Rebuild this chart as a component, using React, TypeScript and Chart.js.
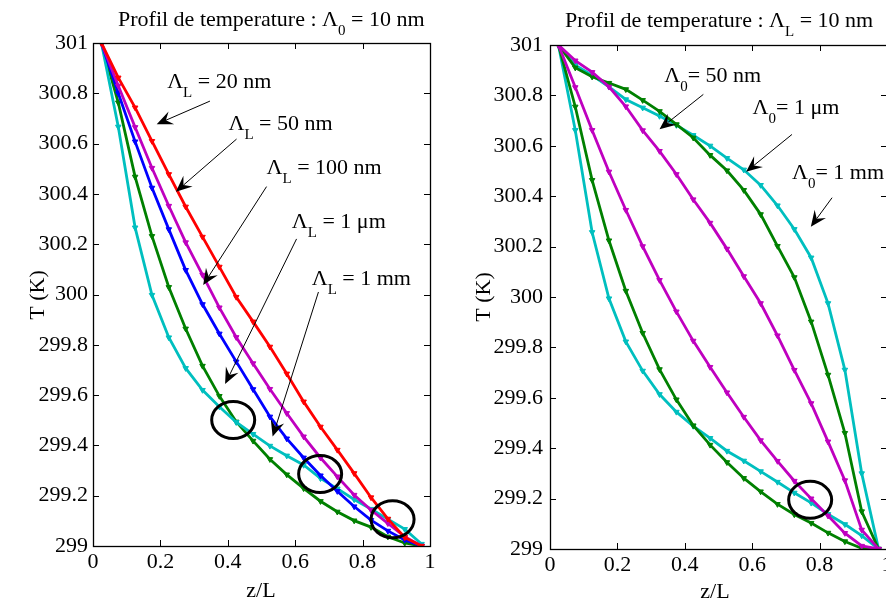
import React, { useEffect, useRef } from "react";
import { Chart, registerables } from "chart.js";

Chart.register(...registerables);

const FAMILY = "'Liberation Serif', 'Times New Roman', serif";

// z/L positions of the computed points (cell centres)
const Z = [0.025, 0.075, 0.125, 0.175, 0.225, 0.275, 0.325, 0.375, 0.425, 0.475, 0.525, 0.575, 0.625, 0.675, 0.725, 0.775, 0.825, 0.875, 0.925, 0.975];

// Left panel: Λ0 = 10 nm
const LEFT_RED = [301, 300.862, 300.743, 300.61, 300.478, 300.349, 300.229, 300.11, 299.99, 299.892, 299.792, 299.685, 299.574, 299.474, 299.382, 299.289, 299.193, 299.108, 299.034, 299.0];
const LEFT_MAGENTA = [301, 300.83, 300.665, 300.503, 300.352, 300.207, 300.078, 299.948, 299.83, 299.726, 299.624, 299.528, 299.435, 299.351, 299.276, 299.203, 299.143, 299.09, 299.037, 299.0];
const LEFT_BLUE = [301, 300.8, 300.608, 300.424, 300.259, 300.097, 299.961, 299.844, 299.733, 299.623, 299.514, 299.427, 299.351, 299.28, 299.218, 299.157, 299.103, 299.06, 299.024, 299.0];
const LEFT_GREEN = [301, 300.763, 300.468, 300.232, 300.029, 299.864, 299.716, 299.596, 299.494, 299.418, 299.345, 299.284, 299.229, 299.178, 299.136, 299.101, 299.075, 299.037, 299.012, 299.0];
const LEFT_CYAN = [301, 300.667, 300.266, 299.998, 299.829, 299.707, 299.62, 299.554, 299.492, 299.445, 299.398, 299.359, 299.322, 299.269, 299.228, 299.185, 299.147, 299.107, 299.067, 299.008];

// Right panel: ΛL = 10 nm
const RIGHT_MAGENTA_UP = [301, 300.938, 300.892, 300.834, 300.756, 300.661, 300.579, 300.487, 300.387, 300.294, 300.191, 300.082, 299.975, 299.847, 299.71, 299.578, 299.426, 299.272, 299.076, 299.0];
const RIGHT_CYAN_UP = [301, 300.92, 300.88, 300.834, 300.784, 300.751, 300.718, 300.682, 300.642, 300.6, 300.551, 300.505, 300.444, 300.363, 300.269, 300.156, 299.975, 299.711, 299.3, 299.0];
const RIGHT_GREEN_UP = [301, 300.91, 300.874, 300.849, 300.824, 300.781, 300.737, 300.685, 300.632, 300.563, 300.502, 300.424, 300.328, 300.202, 300.078, 299.902, 299.691, 299.46, 299.149, 299.0];
const RIGHT_CYAN_LOW = [301, 300.662, 300.257, 299.994, 299.823, 299.707, 299.614, 299.544, 299.488, 299.44, 299.389, 299.35, 299.308, 299.266, 299.223, 299.183, 299.138, 299.098, 299.053, 299.0];
const RIGHT_GREEN_LOW = [301, 300.755, 300.464, 300.224, 300.024, 299.857, 299.713, 299.593, 299.49, 299.413, 299.344, 299.281, 299.228, 299.178, 299.137, 299.103, 299.064, 299.03, 299.003, 299.0];
const RIGHT_MAGENTA_LOW = [301, 300.832, 300.662, 300.497, 300.345, 300.201, 300.067, 299.942, 299.826, 299.722, 299.621, 299.524, 299.431, 299.349, 299.27, 299.2, 299.132, 299.063, 299.012, 299.0];

// Text
const LEFT_TITLE = ["Profil de temperature : Λ", "0", " = 10 nm"];
const RIGHT_TITLE = ["Profil de temperature : Λ", "L", " = 10 nm"];
const X_LABEL = "z/L";
const Y_LABEL = "T (K)";

const LEFT_NOTE_SUB = "L";
const LEFT_NOTE_TEXT = [" = 20 nm", " = 50 nm", " = 100 nm", " = 1 μm", " = 1 mm"];
const LEFT_NOTE_AT: [number, number][] = [[0.22, 300.821], [0.402, 300.654], [0.515, 300.478], [0.59, 300.263], [0.649, 300.038]];
const LEFT_ARROWS: [number, number, number, number][] = [
  [0.347, 300.769, 0.189, 300.677],
  [0.426, 300.618, 0.246, 300.409],
  [0.515, 300.429, 0.327, 300.038],
  [0.604, 300.221, 0.392, 299.644],
  [0.669, 300.01, 0.533, 299.435],
];
const LEFT_CIRCLES: [number, number][] = [[0.416, 299.501], [0.674, 299.286], [0.889, 299.106]];

const RIGHT_NOTE_SUB = "0";
const RIGHT_NOTE_TEXT = ["= 50 nm", "= 1 μm", "= 1 mm"];
const RIGHT_NOTE_AT: [number, number][] = [[0.339, 300.854], [0.601, 300.728], [0.718, 300.468]];
const RIGHT_ARROWS: [number, number, number, number][] = [
  [0.455, 300.804, 0.325, 300.666],
  [0.718, 300.645, 0.582, 300.497],
  [0.837, 300.394, 0.774, 300.279],
];
const RIGHT_CIRCLES: [number, number][] = [[0.772, 299.195]];

const RED = "#ff0000";
const MAGENTA = "#bf00bf";
const BLUE = "#0000ff";
const GREEN = "#008000";
const CYAN = "#00bfbf";

const fmt = (v: number) => String(Math.round(v * 10) / 10);

function drawRich(ctx: CanvasRenderingContext2D, x: number, y: number, parts: { t: string; sub?: boolean }[]) {
  let cx = x;
  ctx.textAlign = "left";
  ctx.textBaseline = "alphabetic";
  for (const p of parts) {
    ctx.font = `${p.sub ? 15 : 22}px ${FAMILY}`;
    ctx.fillText(p.t, cx, p.sub ? y + 9 : y);
    cx += ctx.measureText(p.t).width;
  }
}

function drawArrow(ctx: CanvasRenderingContext2D, x1: number, y1: number, x2: number, y2: number) {
  const a = Math.atan2(y2 - y1, x2 - x1);
  const c = Math.cos(a), s = Math.sin(a);
  const L = 16, W = 7, back = 10;
  const nx = x2 - c * back, ny = y2 - s * back;
  ctx.lineWidth = 1;
  ctx.beginPath();
  ctx.moveTo(x1, y1);
  ctx.lineTo(nx, ny);
  ctx.stroke();
  ctx.beginPath();
  ctx.moveTo(x2, y2);
  ctx.lineTo(x2 - c * L + s * W, y2 - s * L - c * W);
  ctx.lineTo(nx, ny);
  ctx.lineTo(x2 - c * L - s * W, y2 - s * L + c * W);
  ctx.closePath();
  ctx.fill();
}

type Series = { values: number[]; color: string };
type PanelCfg = {
  series: Series[];
  top: number;
  right: number;
  yAxisW: number;
  xAxisH: number;
  yPad: number;
  title: string[];
  titleSubIndex: number;
  titleX: number;
  titleY: number;
  xLabelX: number;
  xLabelY: number;
  yLabelX: number;
  yLabelY: number;
  noteSub: string;
  noteText: string[];
  noteAt: [number, number][];
  arrows: [number, number, number, number][];
  circles: [number, number][];
};

function decorPlugin(cfg: PanelCfg) {
  return {
    id: "decor",
    afterDraw(chart: any) {
      const ctx: CanvasRenderingContext2D = chart.ctx;
      const xs = chart.scales.x;
      const ys = chart.scales.y;
      const { left, right, top, bottom } = chart.chartArea;
      ctx.save();
      ctx.strokeStyle = "#000";
      ctx.fillStyle = "#000";
      // frame
      ctx.lineWidth = 1.3;
      ctx.strokeRect(Math.round(left) + 0.5, Math.round(top) + 0.5, Math.round(right - left), Math.round(bottom - top));
      // inward ticks on all sides
      const tl = 6;
      ctx.lineWidth = 1;
      ctx.beginPath();
      for (const t of xs.ticks) {
        const px = Math.round(xs.getPixelForValue(t.value)) + 0.5;
        ctx.moveTo(px, bottom);
        ctx.lineTo(px, bottom - tl);
        ctx.moveTo(px, top);
        ctx.lineTo(px, top + tl);
      }
      for (const t of ys.ticks) {
        const py = Math.round(ys.getPixelForValue(t.value)) + 0.5;
        ctx.moveTo(left, py);
        ctx.lineTo(left + tl, py);
        ctx.moveTo(right, py);
        ctx.lineTo(right - tl, py);
      }
      ctx.stroke();

      // title
      const tp = cfg.title.map((t, i) => ({ t, sub: i === cfg.titleSubIndex }));
      drawRich(ctx, cfg.titleX, cfg.titleY, tp);

      // axis labels
      ctx.font = `22px ${FAMILY}`;
      ctx.textAlign = "center";
      ctx.textBaseline = "alphabetic";
      ctx.fillText(X_LABEL, cfg.xLabelX, cfg.xLabelY);
      ctx.save();
      ctx.translate(cfg.yLabelX, cfg.yLabelY);
      ctx.rotate(-Math.PI / 2);
      ctx.textBaseline = "middle";
      ctx.fillText(Y_LABEL, 0, 0);
      ctx.restore();

      // notes
      cfg.noteText.forEach((txt, i) => {
        const [dx, dy] = cfg.noteAt[i];
        drawRich(ctx, xs.getPixelForValue(dx), ys.getPixelForValue(dy), [
          { t: "Λ" },
          { t: cfg.noteSub, sub: true },
          { t: txt },
        ]);
      });
      // arrows
      for (const [ax, ay, bx, by] of cfg.arrows) {
        drawArrow(ctx, xs.getPixelForValue(ax), ys.getPixelForValue(ay), xs.getPixelForValue(bx), ys.getPixelForValue(by));
      }
      // circles
      ctx.lineWidth = 3;
      for (const [cx, cy] of cfg.circles) {
        ctx.beginPath();
        ctx.ellipse(xs.getPixelForValue(cx), ys.getPixelForValue(cy), 21.5, 18.5, 0, 0, Math.PI * 2);
        ctx.stroke();
      }
      ctx.restore();
    },
  };
}

function makeChart(canvas: HTMLCanvasElement, cfg: PanelCfg) {
  return new Chart(canvas, {
    type: "line",
    data: {
      datasets: cfg.series.map((s) => ({
        data: Z.map((z, i) => ({ x: z, y: s.values[i] })),
        borderColor: s.color,
        backgroundColor: s.color,
        borderWidth: 2.8,
        pointStyle: "triangle",
        pointRotation: 180,
        pointRadius: 3.2,
        pointBorderWidth: 1,
        tension: 0,
        fill: false,
      })),
    },
    options: {
      responsive: false,
      animation: false,
      devicePixelRatio: 1,
      events: [],
      layout: { padding: { top: cfg.top, right: cfg.right, left: 0, bottom: 0 } },
      plugins: { legend: { display: false }, tooltip: { enabled: false }, title: { display: false } },
      scales: {
        x: {
          type: "linear",
          min: 0,
          max: 1,
          grid: { display: false, drawTicks: false },
          border: { display: false },
          ticks: {
            stepSize: 0.2,
            padding: 3,
            color: "#000",
            maxRotation: 0,
            autoSkip: false,
            font: { family: FAMILY, size: 22 },
            callback: (v: any) => fmt(Number(v)),
          },
          afterFit: (s: any) => {
            s.height = cfg.xAxisH;
          },
        },
        y: {
          type: "linear",
          min: 299,
          max: 301,
          grid: { display: false, drawTicks: false },
          border: { display: false },
          ticks: {
            stepSize: 0.2,
            padding: cfg.yPad,
            color: "#000",
            autoSkip: false,
            font: { family: FAMILY, size: 22 },
            callback: (v: any) => fmt(Number(v)),
          },
          afterFit: (s: any) => {
            s.width = cfg.yAxisW;
          },
        },
      },
    } as any,
    plugins: [decorPlugin(cfg)],
  });
}

export default function App() {
  const leftRef = useRef<HTMLCanvasElement>(null);
  const rightRef = useRef<HTMLCanvasElement>(null);

  useEffect(() => {
    const leftCfg: PanelCfg = {
      series: [
        { values: LEFT_RED, color: RED },
        { values: LEFT_MAGENTA, color: MAGENTA },
        { values: LEFT_BLUE, color: BLUE },
        { values: LEFT_CYAN, color: CYAN },
        { values: LEFT_GREEN, color: GREEN },
      ],
      top: 43,
      right: 15,
      yAxisW: 93,
      xAxisH: 57,
      yPad: 5,
      title: LEFT_TITLE,
      titleSubIndex: 1,
      titleX: 118,
      titleY: 26,
      xLabelX: 261,
      xLabelY: 597,
      yLabelX: 38,
      yLabelY: 295,
      noteSub: LEFT_NOTE_SUB,
      noteText: LEFT_NOTE_TEXT,
      noteAt: LEFT_NOTE_AT,
      arrows: LEFT_ARROWS,
      circles: LEFT_CIRCLES,
    };
    const rightCfg: PanelCfg = {
      series: [
        { values: RIGHT_MAGENTA_UP, color: MAGENTA },
        { values: RIGHT_MAGENTA_LOW, color: MAGENTA },
        { values: RIGHT_GREEN_UP, color: GREEN },
        { values: RIGHT_GREEN_LOW, color: GREEN },
        { values: RIGHT_CYAN_UP, color: CYAN },
        { values: RIGHT_CYAN_LOW, color: CYAN },
      ],
      top: 45,
      right: 18,
      yAxisW: 105,
      xAxisH: 54,
      yPad: 7,
      title: RIGHT_TITLE,
      titleSubIndex: 1,
      titleX: 565 - 445,
      titleY: 27,
      xLabelX: 715 - 445,
      xLabelY: 598,
      yLabelX: 484 - 445,
      yLabelY: 297,
      noteSub: RIGHT_NOTE_SUB,
      noteText: RIGHT_NOTE_TEXT,
      noteAt: RIGHT_NOTE_AT,
      arrows: RIGHT_ARROWS,
      circles: RIGHT_CIRCLES,
    };
    const a = makeChart(leftRef.current!, leftCfg);
    const b = makeChart(rightRef.current!, rightCfg);
    return () => {
      a.destroy();
      b.destroy();
    };
  }, []);

  return (
    <div style={{ position: "fixed", left: 0, top: 0, width: 886, height: 603, overflow: "hidden", background: "#fff" }}>
      <div style={{ position: "absolute", left: 0, top: 0, width: 445, height: 603 }}>
        <canvas ref={leftRef} width={445} height={603} style={{ display: "block" }} />
      </div>
      <div style={{ position: "absolute", left: 445, top: 0, width: 460, height: 603 }}>
        <canvas ref={rightRef} width={460} height={603} style={{ display: "block" }} />
      </div>
    </div>
  );
}
